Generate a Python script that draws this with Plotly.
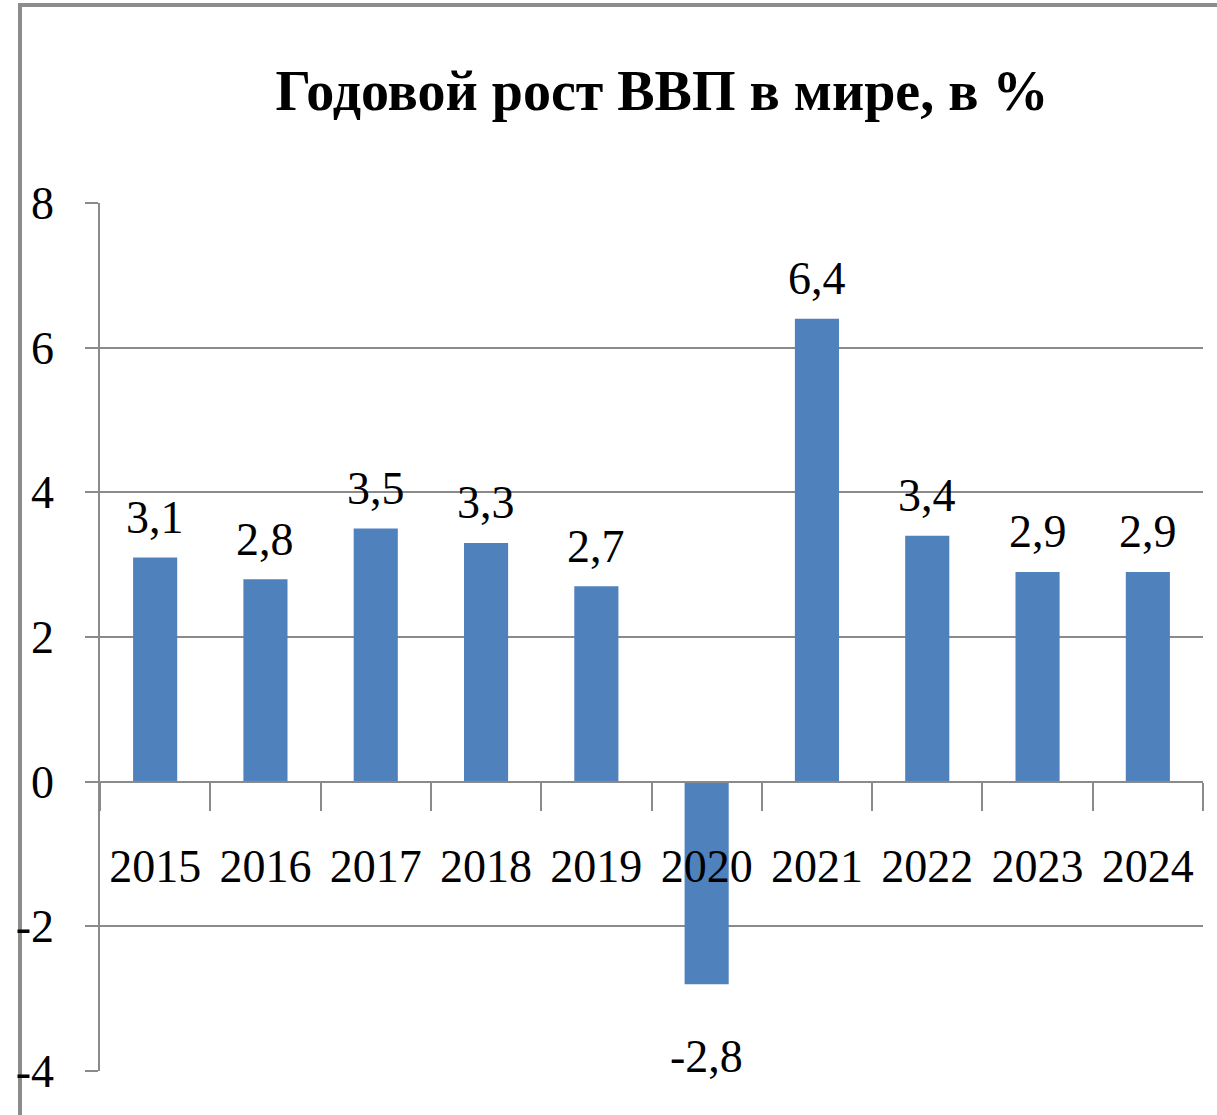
import plotly.graph_objects as go

years = ["2015", "2016", "2017", "2018", "2019", "2020", "2021", "2022", "2023", "2024"]
growth = [3.1, 2.8, 3.5, 3.3, 2.7, -2.8, 6.4, 3.4, 2.9, 2.9]
y_ticks = [-4, -2, 0, 2, 4, 6, 8]
title_text = "Годовой рост ВВП в мире, в %"

labels = [f"{v:.1f}".replace(".", ",") for v in growth]

FONT = "Liberation Serif, Times New Roman, serif"
GRID = "#8a8a8a"

W, H = 1217, 1115
ML, MR, MT, MB = 100, 14, 203, 44
pw = W - ML - MR
ph = H - MT - MB

fig = go.Figure(
    go.Bar(
        x=years,
        y=growth,
        marker=dict(color="#4F81BD", line=dict(width=0)),
        width=0.4,
        hoverinfo="skip",
    )
)

# data labels placed at each bar's end through the axes (category index)
for i, (v, lab) in enumerate(zip(growth, labels)):
    fig.add_annotation(
        x=i, y=v, xref="x", yref="y",
        text=lab, showarrow=False,
        font=dict(family=FONT, size=46, color="black"),
        yanchor="middle",
        yshift=40 if v >= 0 else -72,
    )

ymin, ymax = y_ticks[0], y_ticks[-1]
zero_frac = (0 - ymin) / (ymax - ymin)

fig.update_layout(
    width=W,
    height=H,
    margin=dict(l=ML, r=MR, t=MT, b=MB, autoexpand=False),
    paper_bgcolor="white",
    plot_bgcolor="white",
    showlegend=False,
    title=dict(
        text=f"<b>{title_text}</b>",
        font=dict(family=FONT, size=56, color="black"),
        xref="paper",
        x=(662 - ML) / pw,
        xanchor="center",
        yref="container",
        y=1 - 90 / H,
        yanchor="middle",
    ),
    xaxis=dict(
        type="category",
        categoryorder="array",
        categoryarray=years,
        range=[-0.5, len(years) - 0.5],
        anchor="free",
        position=zero_frac,
        showline=True,
        linecolor=GRID,
        linewidth=2,
        ticks="outside",
        tickson="boundaries",
        ticklen=28,
        tickwidth=1.5,
        tickcolor=GRID,
        showgrid=False,
        tickangle=0,
        tickfont=dict(family=FONT, size=46, color="black"),
        ticklabelstandoff=44,
        automargin=False,
    ),
    yaxis=dict(
        range=[ymin, ymax],
        tickvals=y_ticks,
        ticktext=[str(v) for v in y_ticks],
        showgrid=True,
        gridcolor=GRID,
        gridwidth=2,
        zeroline=True,
        zerolinecolor=GRID,
        zerolinewidth=2,
        showline=True,
        linecolor=GRID,
        linewidth=1.5,
        ticks="outside",
        ticklen=13,
        tickwidth=2,
        tickcolor=GRID,
        tickfont=dict(family=FONT, size=46, color="black"),
        ticklabelstandoff=22,
        automargin=False,
    ),
)

# outer frame of the chart object
fig.add_shape(
    type="rect",
    xref="paper",
    yref="paper",
    x0=(20 - ML) / pw,
    x1=(1240 - ML) / pw,
    y0=(MT + ph - 1140) / ph,
    y1=(MT + ph - 5) / ph,
    line=dict(color="#8c8c8c", width=4),
    fillcolor="rgba(0,0,0,0)",
    layer="below",
)

fig.write_html(
    "out.html",
    config={"displayModeBar": False},
    post_script="document.body.style.margin='0';",
)
